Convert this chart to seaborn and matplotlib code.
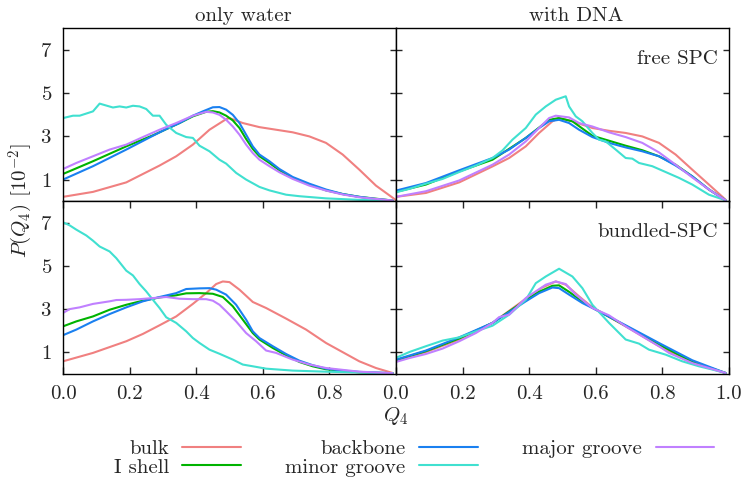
import matplotlib
matplotlib.use("Agg")
import matplotlib.pyplot as plt
import seaborn as sns
import pandas as pd

sns.set_style("white")
plt.rcParams.update({
    "font.family": "serif",
    "font.serif": ["cmr10", "DejaVu Serif"],
    "mathtext.fontset": "cm",
    "axes.formatter.use_mathtext": True,
    "axes.unicode_minus": False,
    "font.size": 15,
    "axes.edgecolor": "black",
    "axes.linewidth": 1.0,
})

series_names = ["bulk", "I shell", "backbone", "minor groove", "major groove"]
series_colors = ["#f08080", "#00b300", "#1a80f0", "#40e0d0", "#c080ff"]

# ---- only water, free SPC ----
w_free_bulk_x = [0, .09, .19, .29, .34, .39, .44, .49, .50, .54, .59, .64, .69, .74, .79, .84, .89, .94, 1.0]
w_free_bulk_y = [.20, .43, .87, 1.65, 2.08, 2.62, 3.31, 3.80, 3.85, 3.62, 3.43, 3.31, 3.19, 3.00, 2.70, 2.16, 1.46, .72, .05]
w_free_shell_x = [0, .09, .19, .27, .35, .39, .43, .45, .47, .49, .51, .53, .55, .57, .59, .62, .65, .69, .74, .79, .84, .89, .99]
w_free_shell_y = [1.26, 1.85, 2.54, 3.05, 3.62, 3.93, 4.14, 4.17, 4.11, 3.96, 3.74, 3.39, 2.88, 2.42, 2.08, 1.77, 1.43, 1.08, .77, .50, .33, .20, .03]
w_free_back_x = [0, .09, .19, .27, .31, .35, .39, .42, .45, .47, .49, .51, .53, .55, .57, .59, .62, .65, .69, .74, .79, .84, .89, .94, .99]
w_free_back_y = [1.0, 1.62, 2.39, 3.03, 3.34, 3.62, 3.96, 4.16, 4.35, 4.36, 4.24, 4.0, 3.62, 3.08, 2.54, 2.16, 1.85, 1.49, 1.12, .81, .54, .33, .20, .10, .03]
w_free_minor_x = [0, .03, .05, .09, .11, .15, .17, .19, .21, .23, .25, .27, .29, .31, .34, .37, .39, .41, .44, .47, .49, .52, .55, .59, .62, .67, .71, .79, .89, .99]
w_free_minor_y = [3.85, 3.96, 3.96, 4.16, 4.52, 4.34, 4.39, 4.34, 4.42, 4.39, 4.27, 3.96, 3.96, 3.54, 3.16, 2.97, 2.93, 2.57, 2.31, 1.92, 1.74, 1.31, 1.0, .66, .50, .30, .23, .13, .06, .02]
w_free_major_x = [0, .04, .09, .14, .19, .24, .29, .34, .39, .43, .45, .47, .49, .51, .53, .55, .57, .59, .62, .65, .69, .74, .79, .84, .89, .99]
w_free_major_y = [1.49, 1.77, 2.08, 2.39, 2.62, 2.97, 3.31, 3.62, 3.96, 4.14, 4.11, 4.0, 3.77, 3.46, 3.08, 2.62, 2.23, 1.92, 1.62, 1.34, 1.03, .72, .49, .31, .18, .03]

# ---- with DNA, free SPC ----
d_free_bulk_x = [0, .09, .19, .29, .34, .39, .43, .47, .49, .53, .59, .64, .69, .74, .79, .84, .89, .94, .99]
d_free_bulk_y = [.20, .38, .87, 1.61, 2.0, 2.54, 3.16, 3.70, 3.85, 3.70, 3.39, 3.26, 3.16, 3.0, 2.70, 2.16, 1.46, .77, .07]
d_free_shell_x = [0, .09, .19, .29, .39, .46, .49, .53, .59, .64, .69, .74, .79, .84, .89, .94, .99]
d_free_shell_y = [.43, .77, 1.38, 1.92, 2.93, 3.77, 3.85, 3.70, 3.03, 2.80, 2.57, 2.36, 2.08, 1.69, 1.15, .54, .04]
d_free_back_x = [0, .09, .19, .29, .34, .39, .43, .46, .49, .52, .55, .59, .64, .69, .74, .79, .84, .89, .94, .99]
d_free_back_y = [.49, .84, 1.43, 2.0, 2.39, 2.93, 3.39, 3.70, 3.77, 3.62, 3.31, 2.97, 2.70, 2.49, 2.31, 2.08, 1.65, 1.15, .54, .04]
d_free_minor_x = [0, .04, .09, .14, .19, .24, .29, .32, .35, .39, .42, .45, .48, .51, .52, .54, .56, .59, .61, .63, .66, .69, .71, .73, .77, .81, .85, .89, .94, .99]
d_free_minor_y = [.41, .57, .81, 1.03, 1.35, 1.65, 2.0, 2.35, 2.85, 3.39, 4.01, 4.39, 4.70, 4.86, 4.39, 3.93, 3.70, 3.16, 2.85, 2.77, 2.39, 2.0, 1.97, 1.77, 1.62, 1.35, 1.08, .77, .30, .04]
d_free_major_x = [0, .09, .19, .29, .34, .39, .43, .46, .48, .52, .55, .59, .64, .69, .74, .79, .84, .89, .94, .99]
d_free_major_y = [.20, .46, .96, 1.69, 2.16, 2.77, 3.39, 3.85, 3.96, 3.88, 3.62, 3.46, 3.19, 2.97, 2.70, 2.26, 1.69, 1.10, .54, .04]

# ---- only water, bundled-SPC ----
w_bund_bulk_x = [0, .09, .19, .24, .29, .34, .39, .43, .46, .48, .50, .53, .57, .61, .67, .73, .79, .85, .89, .94, .99]
w_bund_bulk_y = [.58, .97, 1.51, 1.85, 2.25, 2.66, 3.24, 3.74, 4.16, 4.28, 4.25, 3.90, 3.33, 3.05, 2.56, 2.05, 1.43, .92, .58, .27, .04]
w_bund_shell_x = [0, .04, .09, .14, .19, .24, .29, .34, .37, .41, .45, .48, .51, .54, .57, .59, .63, .67, .71, .75, .79, .89, .99]
w_bund_shell_y = [2.2, 2.43, 2.66, 2.97, 3.2, 3.39, 3.54, 3.64, 3.73, 3.74, 3.71, 3.56, 3.13, 2.51, 1.89, 1.59, 1.2, .86, .55, .35, .21, .07, .03]
w_bund_back_x = [0, .04, .09, .14, .19, .24, .29, .34, .37, .41, .44, .46, .49, .52, .55, .57, .59, .63, .67, .71, .75, .79, .84, .89, .99]
w_bund_back_y = [1.79, 2.05, 2.43, 2.77, 3.08, 3.36, 3.56, 3.74, 3.93, 3.96, 3.97, 3.90, 3.67, 3.20, 2.51, 1.97, 1.66, 1.28, .92, .61, .40, .24, .15, .09, .03]
w_bund_minor_x = [0, .02, .04, .07, .09, .11, .14, .16, .19, .21, .23, .25, .27, .29, .31, .34, .37, .39, .41, .44, .47, .51, .54, .57, .61, .69, .79, .89, .99]
w_bund_minor_y = [7.02, 6.88, 6.68, 6.41, 6.17, 5.90, 5.67, 5.36, 4.78, 4.56, 4.16, 3.82, 3.43, 3.05, 2.62, 2.36, 1.97, 1.66, 1.43, 1.12, .93, .66, .43, .35, .24, .15, .10, .06, .03]
w_bund_major_x = [0, .02, .05, .09, .14, .16, .19, .23, .27, .31, .35, .39, .43, .45, .47, .49, .52, .55, .58, .61, .64, .69, .74, .79, .89, .99]
w_bund_major_y = [2.82, 3.0, 3.08, 3.24, 3.36, 3.42, 3.43, 3.46, 3.51, 3.56, 3.48, 3.46, 3.46, 3.39, 3.2, 2.9, 2.43, 1.89, 1.51, 1.08, .97, .66, .43, .27, .10, .03]

# ---- with DNA, bundled-SPC ----
d_bund_bulk_x = [0, .09, .19, .29, .39, .44, .48, .51, .55, .59, .69, .79, .89, .99]
d_bund_bulk_y = [.61, 1.01, 1.59, 2.36, 3.48, 4.0, 4.28, 4.13, 3.59, 3.08, 2.2, 1.28, .5, .04]
d_bund_shell_x = [0, .09, .19, .29, .39, .43, .47, .49, .52, .56, .59, .69, .79, .89, .99]
d_bund_shell_y = [.63, 1.05, 1.64, 2.36, 3.42, 3.80, 4.08, 4.10, 3.80, 3.35, 3.07, 2.22, 1.36, .56, .04]
d_bund_back_x = [0, .09, .19, .29, .39, .43, .47, .49, .52, .56, .59, .69, .79, .89, .99]
d_bund_back_y = [.66, 1.08, 1.69, 2.36, 3.36, 3.74, 4.0, 3.97, 3.67, 3.28, 3.05, 2.25, 1.43, .63, .04]
d_bund_minor_x = [0, .04, .09, .14, .19, .24, .29, .34, .39, .42, .45, .49, .53, .56, .59, .64, .69, .73, .76, .81, .86, .91, .95, .99]
d_bund_minor_y = [.74, 1.01, 1.28, 1.54, 1.69, 1.97, 2.23, 2.74, 3.43, 4.2, 4.51, 4.87, 4.51, 3.97, 3.2, 2.36, 1.59, 1.4, 1.12, .89, .58, .35, .2, .04]
d_bund_major_x = [0, .04, .09, .14, .19, .24, .29, .31, .34, .39, .42, .45, .48, .51, .54, .59, .64, .69, .74, .79, .82, .89, .94, .99]
d_bund_major_y = [.55, .73, .92, 1.17, 1.51, 1.89, 2.36, 2.63, 2.74, 3.51, 3.82, 4.13, 4.28, 4.16, 3.67, 3.05, 2.71, 2.2, 1.74, 1.28, .97, .5, .27, .04]

panels = {
    (0, 0): [(w_free_bulk_x, w_free_bulk_y), (w_free_shell_x, w_free_shell_y), (w_free_back_x, w_free_back_y),
             (w_free_minor_x, w_free_minor_y), (w_free_major_x, w_free_major_y)],
    (0, 1): [(d_free_bulk_x, d_free_bulk_y), (d_free_shell_x, d_free_shell_y), (d_free_back_x, d_free_back_y),
             (d_free_minor_x, d_free_minor_y), (d_free_major_x, d_free_major_y)],
    (1, 0): [(w_bund_bulk_x, w_bund_bulk_y), (w_bund_shell_x, w_bund_shell_y), (w_bund_back_x, w_bund_back_y),
             (w_bund_minor_x, w_bund_minor_y), (w_bund_major_x, w_bund_major_y)],
    (1, 1): [(d_bund_bulk_x, d_bund_bulk_y), (d_bund_shell_x, d_bund_shell_y), (d_bund_back_x, d_bund_back_y),
             (d_bund_minor_x, d_bund_minor_y), (d_bund_major_x, d_bund_major_y)],
}

column_titles = ["only water", "with DNA"]
row_tags = ["free SPC", "bundled-SPC"]
xticks_left = [0.0, 0.2, 0.4, 0.6, 0.8]
xticks_right = [0.0, 0.2, 0.4, 0.6, 0.8, 1.0]
yticks = [1, 3, 5, 7]

fig, axes = plt.subplots(2, 2, figsize=(7.43, 4.83), dpi=100)
fig.subplots_adjust(left=0.0848, right=0.981, top=0.941, bottom=0.226, hspace=0, wspace=0)

for (r, c), curves in panels.items():
    ax = axes[r, c]
    for (xs, ys), name, col in zip(curves, series_names, series_colors):
        df = pd.DataFrame({"Q4": xs, "P": ys})
        sns.lineplot(data=df, x="Q4", y="P", ax=ax, color=col, lw=1.5,
                     estimator=None, sort=False, legend=False)
    ax.set_xlim(0, 1)
    ax.set_ylim(0, 8)
    ax.set_xlabel("")
    ax.set_ylabel("")
    for s in ax.spines.values():
        s.set_visible(True)
        s.set_color("black")
        s.set_linewidth(1.0)
    ax.set_yticks(yticks)
    ax.tick_params(axis="y", direction="in", length=4.5, width=1, left=True, right=True,
                   labelleft=(c == 0), labelright=False, labelsize=15, pad=8)
    if r == 0:
        ax.set_xticks([])
        ax.set_title(column_titles[c], fontsize=15, pad=5.5, x=0.542)
    else:
        ticks = xticks_right if c == 1 else xticks_left
        ax.set_xticks(ticks)
        ax.set_xticklabels([f"{v:.1f}" for v in ticks])
        ax.tick_params(axis="x", direction="in", length=5, width=1, top=True, bottom=True,
                       labelbottom=True, labelsize=15, pad=8)
    if c == 1:
        ax.text(0.968, 0.821, row_tags[r], transform=ax.transAxes, ha="right", va="center", fontsize=15)

fig.text(0.028, 0.584, r"$P(Q_4)$ [$10^{-2}$]", rotation=90, ha="center", va="center", fontsize=15)
fig.text(0.533, 0.138, r"$Q_4$", ha="center", va="center", fontsize=15)

handles = [plt.Line2D([], [], color=c, lw=1.5) for c in series_colors]
fig.legend(handles, series_names, loc="upper center", bbox_to_anchor=(0.557, 0.116), ncol=3,
           frameon=False, markerfirst=False, handlelength=2.8, handletextpad=0.65,
           columnspacing=2.15, labelspacing=0.0, fontsize=15, borderpad=0.1)

fig.savefig("out.png", dpi=100)
